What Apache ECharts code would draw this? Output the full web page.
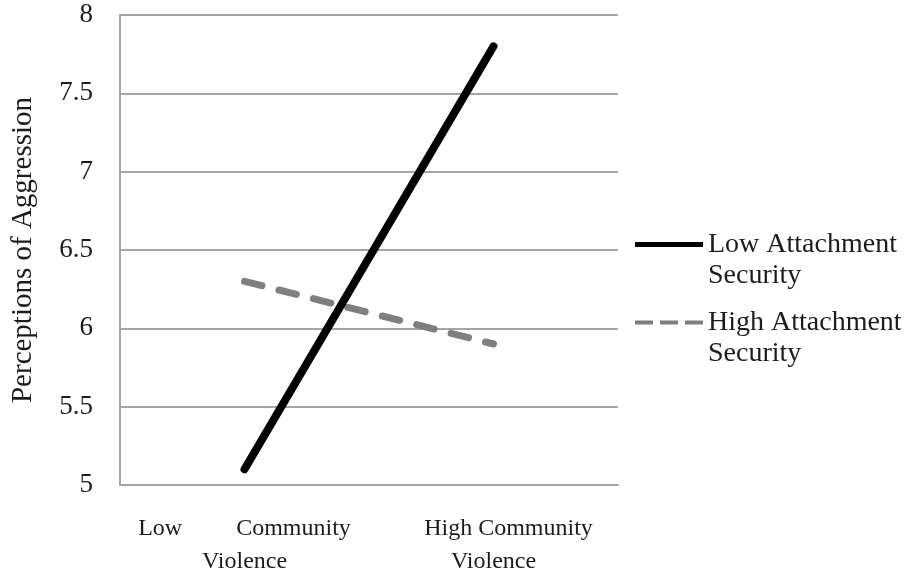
<!DOCTYPE html>
<html>
<head>
    <meta charset="UTF-8">
    <title>Perceptions of Aggression</title>
    <script src="https://cdn.jsdelivr.net/npm/echarts@6/dist/echarts.min.js"></script>
    <style>
        html, body { margin: 0; padding: 0; background: #fff; }
        #main { width: 906px; height: 575px; }
    </style>
</head>
<body>
<div id="main"></div>
<script type="text/javascript">
    // data
    var categories = ['Low         Community\nViolence', '     High Community\nViolence'];
    var lowAttachment = [5.1, 7.8];
    var highAttachment = [6.3, 5.9];
    var seriesNames = ['Low Attachment\nSecurity', 'High Attachment\nSecurity'];
    var yTicks = {min: 5, max: 8, step: 0.5};

    var serif = '"Liberation Serif", "DejaVu Serif", serif';
    var gridColor = '#a6a6a6';
    var textColor = '#1c1c1c';

    // legend icons: line sits at the height of the first text line
    var solidIcon = 'path://M0,0h0.01v0.01h-0.01z M0,13h68v5h-68z M0,62h0.01v-0.01h-0.01z';
    var dashIcon = 'path://M0,0h0.01v0.01h-0.01z M0,13.5h18v4h-18z M25,13.5h18v4h-18z M50,13.5h18v4h-18z M0,62h0.01v-0.01h-0.01z';

    var myChart = echarts.init(document.getElementById('main'));

    var option = {
        animation: false,
        grid: {
            left: 120,
            right: 288,
            top: 15,
            bottom: 90,
            containLabel: false,
            outerBoundsMode: 'none'
        },
        legend: {
            orient: 'vertical',
            left: 630,
            top: 224,
            itemWidth: 68,
            itemHeight: 62,
            itemGap: 16,
            itemStyle: {borderWidth: 0},
            textStyle: {
                fontFamily: serif,
                fontSize: 28,
                lineHeight: 31,
                color: textColor
            },
            data: [
                {name: seriesNames[0], icon: solidIcon},
                {name: seriesNames[1], icon: dashIcon}
            ]
        },
        xAxis: {
            type: 'category',
            boundaryGap: true,
            data: categories,
            axisLine: {lineStyle: {color: gridColor, width: 2}},
            axisTick: {show: false},
            axisLabel: {
                interval: 0,
                fontFamily: serif,
                fontSize: 24,
                lineHeight: 33,
                margin: 27,
                color: textColor
            }
        },
        yAxis: {
            type: 'value',
            min: yTicks.min,
            max: yTicks.max,
            interval: yTicks.step,
            name: 'Perceptions of Aggression',
            nameLocation: 'middle',
            nameGap: 82,
            nameTextStyle: {
                fontFamily: serif,
                fontSize: 29,
                color: textColor
            },
            axisLine: {show: true, lineStyle: {color: gridColor, width: 2}},
            axisTick: {show: false},
            splitLine: {lineStyle: {color: gridColor, width: 2}},
            axisLabel: {
                fontFamily: serif,
                fontSize: 27,
                margin: 27,
                color: textColor
            }
        },
        series: [
            {
                name: seriesNames[0],
                type: 'line',
                data: lowAttachment,
                symbol: 'none',
                color: '#000000',
                lineStyle: {color: '#000000', width: 8, cap: 'round'},
                z: 3
            },
            {
                name: seriesNames[1],
                type: 'line',
                data: highAttachment,
                symbol: 'none',
                color: '#7f7f7f',
                lineStyle: {color: '#7f7f7f', width: 7, type: [18, 17.5], cap: 'round'},
                z: 2
            }
        ]
    };

    myChart.setOption(option);
</script>
</body>
</html>
